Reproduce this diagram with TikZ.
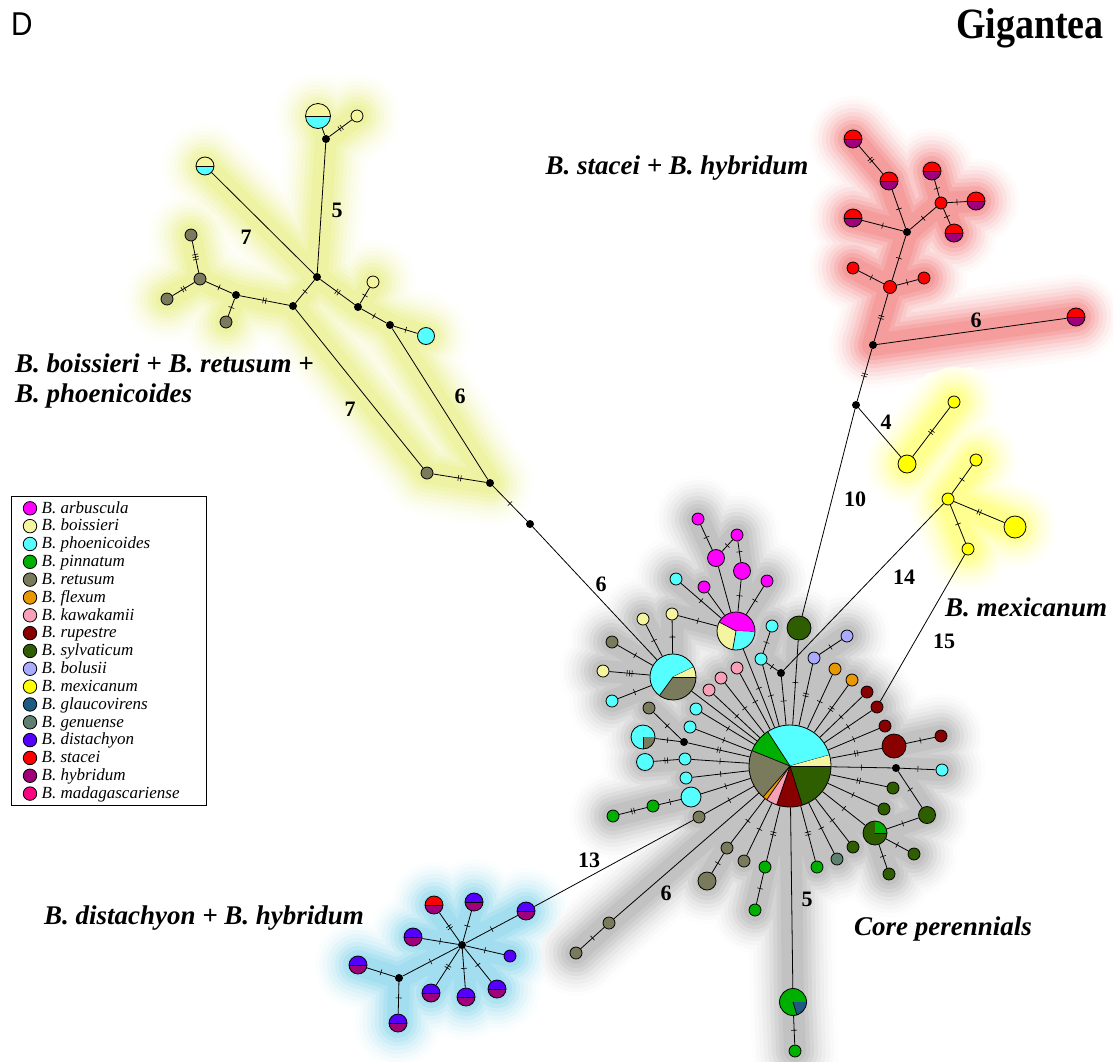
\documentclass[tikz,border=0pt]{standalone}
\usepackage{fontspec}
\setmainfont{Liberation Serif}
\newfontfamily\panelfont{Liberation Sans}
\usetikzlibrary{decorations.markings}
\pgfdeclarelayer{paper}
\pgfdeclarelayer{glow}
\pgfsetlayers{paper,glow,main}

% species colours
\definecolor{cArb}{HTML}{FF00FF}
\definecolor{cBoi}{HTML}{F5F5A0}
\definecolor{cPho}{HTML}{55FFFF}
\definecolor{cPin}{HTML}{00B000}
\definecolor{cRet}{HTML}{7A7A5C}
\definecolor{cFle}{HTML}{E89800}
\definecolor{cKaw}{HTML}{F8A0B8}
\definecolor{cRup}{HTML}{880000}
\definecolor{cSyl}{HTML}{2F5E00}
\definecolor{cBol}{HTML}{AAAAFF}
\definecolor{cMex}{HTML}{FFFF00}
\definecolor{cGla}{HTML}{1E5A82}
\definecolor{cGen}{HTML}{5E8070}
\definecolor{cDis}{HTML}{5500FF}
\definecolor{cSta}{HTML}{FF0000}
\definecolor{cHyb}{HTML}{A0007A}
\definecolor{cMad}{HTML}{FF0080}
% glow colours
\definecolor{gCore}{HTML}{C2C2C2}
\definecolor{gBoi}{HTML}{EEF3A4}
\definecolor{gSta}{HTML}{F59C9C}
\definecolor{gMex}{HTML}{FFFF90}
\definecolor{gDis}{HTML}{A2DEF0}

\newcommand\pslice[3]{%
  \fill[#3] (path picture bounding box.center) -- ++(-#1:60)
    arc[start angle=-#1, end angle=-#2, radius=60] -- cycle;
  \draw[line width=.7] (path picture bounding box.center) -- ++(-#1:60);}

% one ring of a soft glow: colour, stroke width, strength, list macro of edges
\newcommand\haloring[4]{%
  \foreach \a/\b in #4{%
    \draw[line width=#2, draw=#1!#3!white, line cap=round, line join=round]
      (\a.center) -- (\b.center);}}

\newcommand\numfont{\fontsize{22}{22}\selectfont\bfseries}

\tikzset{
  hp/.style={circle, draw, line width=0.8, inner sep=0pt, minimum size=#1},
  mv/.style={circle, fill=black, inner sep=0pt, minimum size=8},
  half/.style 2 args={path picture={
      \fill[#1] (path picture bounding box.north west) rectangle (path picture bounding box.east);
      \fill[#2] (path picture bounding box.west) rectangle (path picture bounding box.south east);
      \draw[line width=.7] (path picture bounding box.west) -- (path picture bounding box.east);}},
  pie/.style={path picture={#1}},
  ed/.style={line width=0.8},
  t1/.style={postaction={decorate, decoration={markings, mark=at position .5 with
      {\draw[line width=.6] (0,-3) -- (0,3);}}}},
  t2/.style={postaction={decorate, decoration={markings, mark=at position .5 with
      {\draw[line width=.6] (-1.3,-3) -- (-1.3,3) (1.3,-3) -- (1.3,3);}}}},
  t3/.style={postaction={decorate, decoration={markings, mark=at position .5 with
      {\draw[line width=.6] (-2.5,-3) -- (-2.5,3) (0,-3) -- (0,3) (2.5,-3) -- (2.5,3);}}}},
  num/.style={font=\numfont, inner sep=0pt},
  grp/.style={font=\fontsize{27}{30}\selectfont\bfseries\itshape, inner sep=0pt},
}

\begin{document}
\begin{tikzpicture}[x=1pt, y=-1pt]
\begin{pgfonlayer}{paper}
  \fill[white] (0,0) rectangle (1113,1061);
\end{pgfonlayer}
\useasboundingbox (0,0) rectangle (1113,1061);

% ---------- panel titles ----------
\node[font=\panelfont\fontsize{33}{33}\selectfont, inner sep=0pt, anchor=west] (panel) at (11,24) {\scalebox{0.9}[1]{D}};
\node[font=\fontsize{40}{40}\selectfont\bfseries, inner sep=0pt, anchor=base east] (title) at (1104,38) {\scalebox{0.95}[1.08]{Gigantea}};

% ---------- B. boissieri / retusum / phoenicoides ----------
\node[hp=25, half={cBoi}{cPho}] (bh1) at (318,116) {};
\node[mv] (m1) at (326,139) {};
\node[hp=12, fill=cBoi] (by1) at (357,116) {};
\node[hp=18, half={cBoi}{cPho}] (bh2) at (205,166) {};
\node[mv] (m2) at (317,277) {};
\node[mv] (m3) at (293,306) {};
\node[mv] (m4) at (236,295) {};
\node[hp=12, fill=cRet] (bg1) at (200,279) {};
\node[hp=12, fill=cRet] (bg2) at (191,235) {};
\node[hp=12, fill=cRet] (bg3) at (167,299) {};
\node[hp=12, fill=cRet] (bg4) at (226,322) {};
\node[mv] (m5) at (358,307) {};
\node[hp=12, fill=cBoi] (by2) at (373,282) {};
\node[mv] (m6) at (390,325) {};
\node[hp=17, fill=cPho] (bc1) at (426,336) {};
\node[hp=12, fill=cRet] (bg5) at (427,473) {};
\node[mv] (m7) at (490,483) {};
\node[mv] (m8) at (530,524) {};

% ---------- B. stacei + B. hybridum ----------
\node[hp=18, half={cSta}{cHyb}] (rh1) at (853,139) {};
\node[hp=18, half={cSta}{cHyb}] (rh2) at (889,181) {};
\node[hp=18, half={cSta}{cHyb}] (rh3) at (932,171) {};
\node[hp=12, fill=cSta] (rr1) at (941,203) {};
\node[hp=18, half={cSta}{cHyb}] (rh4) at (976,201) {};
\node[hp=18, half={cSta}{cHyb}] (rh5) at (954,233) {};
\node[hp=18, half={cSta}{cHyb}] (rh6) at (853,218) {};
\node[mv] (m9) at (907,232) {};
\node[hp=12, fill=cSta] (rr2) at (853,268) {};
\node[hp=13, fill=cSta] (rr3) at (890,287) {};
\node[hp=12, fill=cSta] (rr4) at (924,278) {};
\node[mv] (m10) at (873,345) {};
\node[hp=18, half={cSta}{cHyb}] (rh7) at (1076,317) {};
\node[mv] (m11) at (856,405) {};

% ---------- B. mexicanum ----------
\node[hp=18, fill=cMex] (my1) at (907,464) {};
\node[hp=12, fill=cMex] (my2) at (954,402) {};
\node[hp=12, fill=cMex] (my3) at (948,499) {};
\node[hp=12, fill=cMex] (my4) at (976,460) {};
\node[hp=22, fill=cMex] (my5) at (1015,527) {};
\node[hp=12, fill=cMex] (my6) at (968,549) {};

% ---------- core perennials ----------
\node[hp=82, pie={\pslice{15.6}{123}{cPho}\pslice{123}{158}{cPin}\pslice{158}{229}{cRet}%
  \pslice{229}{235.5}{cFle}\pslice{235.5}{251}{cKaw}\pslice{251}{287.5}{cRup}%
  \pslice{287.5}{360}{cSyl}\pslice{0}{15.6}{cBoi}}] (hub) at (790,766) {};
\node[hp=46, pie={\pslice{26}{234}{cPho}\pslice{234}{360}{cRet}\pslice{0}{26}{cBoi}}] (P1) at (673,677) {};
\node[hp=38, pie={\pslice{-2}{152}{cArb}\pslice{152}{260}{cBoi}\pslice{260}{358}{cPho}}] (P2) at (736,631) {};
\node[hp=24, pie={\pslice{0}{270}{cPho}\pslice{270}{360}{cRet}}] (Q2) at (643,737) {};
\node[hp=24, pie={\pslice{90}{360}{cSyl}\pslice{0}{90}{cPin}}] (Q3) at (875,833) {};
\node[hp=27, pie={\pslice{0}{287}{cPin}\pslice{287}{360}{cGla}}] (Q1) at (793,1002) {};

\node[hp=12, fill=cBoi] (ky1) at (643,619) {};
\node[hp=12, fill=cBoi] (ky2) at (672,614) {};
\node[hp=12, fill=cRet] (kg1) at (612,642) {};
\node[hp=12, fill=cBoi] (ky3) at (603,671) {};
\node[hp=12, fill=cPho] (kc1) at (612,701) {};
\node[hp=12, fill=cPho] (kc2) at (676,579) {};
\node[hp=12, fill=cArb] (ka1) at (698,519) {};
\node[hp=12, fill=cArb] (ka2) at (737,535) {};
\node[hp=17, fill=cArb] (ka3) at (716,558) {};
\node[hp=17, fill=cArb] (ka4) at (742,571) {};
\node[hp=12, fill=cArb] (ka5) at (704,587) {};
\node[hp=12, fill=cArb] (ka6) at (767,581) {};
\node[hp=12, fill=cPho] (kc3) at (772,626) {};
\node[hp=12, fill=cPho] (kc4) at (761,659) {};
\node[mv] (m12) at (781,673) {};
\node[hp=24, fill=cSyl] (ks1) at (799,628) {};
\node[hp=12, fill=cBol] (kb1) at (847,636) {};
\node[hp=12, fill=cBol] (kb2) at (814,658) {};
\node[hp=12, fill=cFle] (ko1) at (835,669) {};
\node[hp=12, fill=cFle] (ko2) at (852,680) {};
\node[hp=12, fill=cRup] (kr1) at (867,692) {};
\node[hp=12, fill=cRup] (kr2) at (877,707) {};
\node[hp=12, fill=cRup] (kr3) at (885,726) {};
\node[hp=24, fill=cRup] (kr4) at (894,746) {};
\node[hp=12, fill=cRup] (kr5) at (941,736) {};
\node[mv] (m13) at (896,768) {};
\node[hp=12, fill=cPho] (kc5) at (942,770) {};
\node[hp=12, fill=cSyl] (ks2) at (893,788) {};
\node[hp=12, fill=cSyl] (ks3) at (884,809) {};
\node[hp=17, fill=cSyl] (ks4) at (927,815) {};
\node[hp=12, fill=cSyl] (ks5) at (914,854) {};
\node[hp=12, fill=cSyl] (ks6) at (889,874) {};
\node[hp=12, fill=cSyl] (ks7) at (853,847) {};
\node[hp=12, fill=cGen] (kn1) at (837,859) {};
\node[hp=12, fill=cPin] (kp1) at (817,867) {};
\node[hp=12, fill=cPin] (kp2) at (795,1051) {};
\node[hp=12, fill=cPin] (kp3) at (765,867) {};
\node[hp=12, fill=cPin] (kp4) at (755,910) {};
\node[hp=12, fill=cRet] (kg2) at (744,861) {};
\node[hp=12, fill=cRet] (kg3) at (727,848) {};
\node[hp=18, fill=cRet] (kg4) at (707,881) {};
\node[hp=12, fill=cRet] (kg5) at (699,817) {};
\node[hp=12, fill=cRet] (kg6) at (609,923) {};
\node[hp=12, fill=cRet] (kg7) at (576,953) {};
\node[hp=20, fill=cPho] (kc6) at (691,797) {};
\node[hp=12, fill=cPin] (kp5) at (653,806) {};
\node[hp=12, fill=cPin] (kp6) at (613,816) {};
\node[hp=12, fill=cPho] (kc7) at (686,778) {};
\node[hp=12, fill=cPho] (kc8) at (685,759) {};
\node[hp=17, fill=cPho] (kc9) at (645,762) {};
\node[mv] (m14) at (684,742) {};
\node[hp=12, fill=cRet] (kg8) at (649,708) {};
\node[hp=12, fill=cPho] (kc10) at (690,727) {};
\node[hp=12, fill=cPho] (kc11) at (696,709) {};
\node[hp=12, fill=cKaw] (kk1) at (709,690) {};
\node[hp=12, fill=cKaw] (kk2) at (721,678) {};
\node[hp=12, fill=cKaw] (kk3) at (737,668) {};

% ---------- B. distachyon + B. hybridum ----------
\node[hp=18, half={cSta}{cHyb}] (dh1) at (434,905) {};
\node[hp=18, half={cDis}{cHyb}] (dh2) at (474,902) {};
\node[hp=18, half={cDis}{cHyb}] (dh3) at (526,911) {};
\node[hp=18, half={cDis}{cHyb}] (dh4) at (413,937) {};
\node[mv] (m15) at (462,945) {};
\node[hp=12, fill=cDis] (dd1) at (510,956) {};
\node[hp=18, half={cDis}{cHyb}] (dh5) at (358,965) {};
\node[mv] (m16) at (399,978) {};
\node[hp=18, half={cDis}{cHyb}] (dh6) at (431,993) {};
\node[hp=18, half={cDis}{cHyb}] (dh7) at (466,997) {};
\node[hp=18, half={cDis}{cHyb}] (dh8) at (497,989) {};
\node[hp=18, half={cDis}{cHyb}] (dh9) at (398,1023) {};

% ---------- soft glow behind each group ----------
\def\edBoi{bh1/m1, m1/by1, m1/m2, bh2/m2, m2/m3, m3/m4, m4/bg1, m4/bg4, bg1/bg2, bg1/bg3,
  m2/m5, m5/by2, m5/m6, m6/bc1, m3/bg5, m6/m7, bg5/m7}
\def\edSta{rh1/rh2, rh2/m9, rh6/m9, m9/rr1, rr1/rh3, rr1/rh4, rr1/rh5, m9/rr3, rr3/rr2,
  rr3/rr4, rr3/m10, m10/rh7}
\def\edMex{my1/my2, my3/my4, my3/my5, my3/my6}
\def\edDis{m15/dh1, m15/dh2, m15/dh3, m15/dh4, m15/dd1, m15/dh6, m15/dh7, m15/dh8,
  m15/m16, m16/dh5, m16/dh9}
\def\edCore{hub/P1, hub/P2, P1/ky1, P1/ky2, ky2/P2, P1/kg1, P1/ky3, P1/kc1, P2/kc2, P2/ka5,
  P2/ka3, ka3/ka1, ka3/ka2, ka2/ka4, ka4/P2, P2/ka6, kc3/kc4, kc4/hub, kc4/m12, m12/hub,
  ks1/hub, kb2/hub, kb2/kb1, ko1/hub, ko2/hub, kr1/hub, kr2/hub, kr3/hub, kr4/hub, kr4/kr5,
  hub/m13, m13/kc5, m13/ks4, ks4/Q3, hub/ks2, hub/ks3, hub/Q3, Q3/ks5, Q3/ks6, hub/ks7,
  hub/kn1, hub/kp1, hub/Q1, Q1/kp2, hub/kp3, kp3/kp4, hub/kg2, hub/kg3, kg3/kg4, hub/kg6,
  kg6/kg7, hub/kg5, hub/kc6, kc6/kp5, kp5/kp6, hub/kc7, hub/kc8, kc8/kc9, hub/m14, m14/kg8,
  m14/Q2, hub/kc10, hub/kc11, hub/kk1, hub/kk2, hub/kk3}
\begin{pgfonlayer}{glow}
\foreach \w/\p in {86/4,78/10,70/18,62/28,54/40,46/54,38/70,30/86,22/100}{
  \haloring{gBoi}{\w}{\p}{\edBoi}
  \haloring{gSta}{\w}{\p}{\edSta}
  \haloring{gMex}{\w}{\p}{\edMex}
  \haloring{gDis}{\w}{\p}{\edDis}
  \haloring{gCore}{\w}{\p}{\edCore}
}
\end{pgfonlayer}

% ---------- connectors ----------
% boissieri group
\draw[ed] (bh1) -- (m1);
\draw[ed,t2] (m1) -- (by1);
\draw[ed] (m1) -- (m2);
\draw[ed] (bh2) -- (m2);
\draw[ed,t1] (m2) -- (m3);
\draw[ed,t2] (m3) -- (m4);
\draw[ed,t1] (m4) -- (bg1);
\draw[ed,t1] (m4) -- (bg4);
\draw[ed,t3] (bg1) -- (bg2);
\draw[ed,t2] (bg1) -- (bg3);
\draw[ed,t2] (m2) -- (m5);
\draw[ed,t1] (m5) -- (by2);
\draw[ed,t1] (m5) -- (m6);
\draw[ed,t1] (m6) -- (bc1);
\draw[ed] (m3) -- (bg5);
\draw[ed] (m6) -- (m7);
\draw[ed,t2] (bg5) -- (m7);
\draw[ed,t1] (m7) -- (m8);
\draw[ed] (m8) -- (P1);
% stacei group
\draw[ed,t2] (rh1) -- (rh2);
\draw[ed,t1] (rh2) -- (m9);
\draw[ed,t1] (rh6) -- (m9);
\draw[ed,t1] (m9) -- (rr1);
\draw[ed,t1] (rr1) -- (rh3);
\draw[ed,t1] (rr1) -- (rh4);
\draw[ed,t1] (rr1) -- (rh5);
\draw[ed,t1] (m9) -- (rr3);
\draw[ed,t1] (rr3) -- (rr2);
\draw[ed,t1] (rr3) -- (rr4);
\draw[ed,t2] (rr3) -- (m10);
\draw[ed] (m10) -- (rh7);
\draw[ed,t2] (m10) -- (m11);
% mexicanum group
\draw[ed] (m11) -- (my1);
\draw[ed,t2] (my1) -- (my2);
\draw[ed,t1] (my3) -- (my4);
\draw[ed,t2] (my3) -- (my5);
\draw[ed,t1] (my3) -- (my6);
\draw[ed] (m11) -- (ks1);
\draw[ed] (my3) -- (m12);
\draw[ed] (my6) -- (kr2);
% core group
\draw[ed] (P1) -- (hub);
\draw[ed,t1] (kg1) -- (P1);
\draw[ed,t3] (ky3) -- (P1);
\draw[ed,t1] (kc1) -- (P1);
\draw[ed,t1] (ky1) -- (P1);
\draw[ed,t1] (ky2) -- (P1);
\draw[ed,t1] (ky2) -- (P2);
\draw[ed,t1] (kc2) -- (P2);
\draw[ed] (ka5) -- (P2);
\draw[ed] (ka3) -- (P2);
\draw[ed,t1] (ka1) -- (ka3);
\draw[ed,t1] (ka2) -- (ka3);
\draw[ed,t1] (ka2) -- (ka4);
\draw[ed,t1] (ka4) -- (P2);
\draw[ed,t1] (ka6) -- (P2);
\draw[ed,t1] (P2) -- (hub);
\draw[ed,t1] (kc3) -- (kc4);
\draw[ed,t1] (kc4) -- (m12);
\draw[ed,t1] (kc4) -- (hub);
\draw[ed,t1] (m12) -- (hub);
\draw[ed,t1] (ks1) -- (hub);
\draw[ed,t2] (kb2) -- (hub);
\draw[ed,t1] (kb2) -- (kb1);
\draw[ed,t1] (ko1) -- (hub);
\draw[ed,t2] (ko2) -- (hub);
\draw[ed,t1] (kr1) -- (hub);
\draw[ed,t1] (kr2) -- (hub);
\draw[ed,t1] (kr3) -- (hub);
\draw[ed,t2] (kr4) -- (hub);
\draw[ed,t1] (kr4) -- (kr5);
\draw[ed,t1] (hub) -- (m13);
\draw[ed,t1] (m13) -- (kc5);
\draw[ed,t1] (m13) -- (ks4);
\draw[ed,t1] (ks4) -- (Q3);
\draw[ed,t2] (hub) -- (ks2);
\draw[ed,t1] (hub) -- (ks3);
\draw[ed,t1] (hub) -- (Q3);
\draw[ed,t1] (Q3) -- (ks5);
\draw[ed,t1] (Q3) -- (ks6);
\draw[ed,t1] (hub) -- (ks7);
\draw[ed,t1] (hub) -- (kn1);
\draw[ed,t2] (hub) -- (kp1);
\draw[ed] (hub) -- (Q1);
\draw[ed,t1] (Q1) -- (kp2);
\draw[ed,t2] (hub) -- (kp3);
\draw[ed,t1] (kp3) -- (kp4);
\draw[ed,t1] (hub) -- (kg2);
\draw[ed,t1] (hub) -- (kg3);
\draw[ed,t1] (kg3) -- (kg4);
\draw[ed] (hub) -- (kg6);
\draw[ed,t1] (kg6) -- (kg7);
\draw[ed,t1] (hub) -- (kg5);
\draw[ed] (kg5) -- (dh3);
\draw[ed,t1] (hub) -- (kc6);
\draw[ed,t1] (kc6) -- (kp5);
\draw[ed,t2] (kp5) -- (kp6);
\draw[ed,t1] (hub) -- (kc7);
\draw[ed,t1] (hub) -- (kc8);
\draw[ed,t2] (kc8) -- (kc9);
\draw[ed,t2] (hub) -- (m14);
\draw[ed,t1] (m14) -- (kg8);
\draw[ed,t1] (m14) -- (Q2);
\draw[ed,t1] (hub) -- (kc10);
\draw[ed,t1] (hub) -- (kc11);
\draw[ed,t1] (hub) -- (kk1);
\draw[ed,t1] (hub) -- (kk2);
\draw[ed,t1] (hub) -- (kk3);
% distachyon group
\draw[ed,t2] (m15) -- (dh1);
\draw[ed,t1] (m15) -- (dh2);
\draw[ed,t1] (m15) -- (dh3);
\draw[ed,t1] (m15) -- (dh4);
\draw[ed,t1] (m15) -- (dd1);
\draw[ed,t2] (m15) -- (dh6);
\draw[ed,t1] (m15) -- (dh7);
\draw[ed,t1] (m15) -- (dh8);
\draw[ed,t1] (m15) -- (m16);
\draw[ed,t1] (m16) -- (dh5);
\draw[ed,t1] (m16) -- (dh9);

% ---------- mutation counts on long branches ----------
\node[num] (n5a) at (337,210) {5};
\node[num] (n7a) at (246,237) {7};
\node[num] (n7b) at (350,409) {7};
\node[num] (n6a) at (460,396) {6};
\node[num] (n6b) at (601,584) {6};
\node[num] (n6c) at (976,320) {6};
\node[num] (n4) at (886,422) {4};
\node[num] (n10) at (855,499) {10};
\node[num] (n14) at (904,577) {14};
\node[num] (n15) at (944,641) {15};
\node[num] (n13) at (589,860) {13};
\node[num] (n6d) at (666,893) {6};
\node[num] (n5b) at (807,899) {5};

% ---------- group names ----------
\node[grp] (gsta) at (677,168) {B. stacei + B. hybridum};
\node[grp, anchor=west] (gboi1) at (15,363) {B. boissieri + B. retusum +};
\node[grp, anchor=west] (gboi2) at (15,396) {B. phoenicoides};
\node[grp] (gmex) at (1026,607) {B. mexicanum};
\node[grp] (gdis) at (204,918) {B. distachyon + B. hybridum};
\node[grp] (gcore) at (943,929) {Core perennials};

% ---------- legend ----------
\node[draw, line width=0.8, minimum width=195, minimum height=309, inner sep=0pt,
  anchor=north west] (legend) at (11,496) {};
\foreach \c/\t [count=\i] in {cArb/arbuscula, cBoi/boissieri, cPho/phoenicoides,
    cPin/pinnatum, cRet/retusum, cFle/flexum, cKaw/kawakamii, cRup/rupestre,
    cSyl/sylvaticum, cBol/bolusii, cMex/mexicanum, cGla/glaucovirens, cGen/genuense,
    cDis/distachyon, cSta/stacei, cHyb/hybridum, cMad/madagascariense}{
  \node[hp=13.5, fill=\c] (lm\i) at (30,{508.3+(\i-1)*17.83}) {};
  \node[anchor=west, inner sep=0pt, text height=11, text depth=3.5,
    font=\fontsize{17}{17}\selectfont\itshape]
    (lt\i) at (41.5,{509.3+(\i-1)*17.83}) {B. \t};
}
\end{tikzpicture}
\end{document}
